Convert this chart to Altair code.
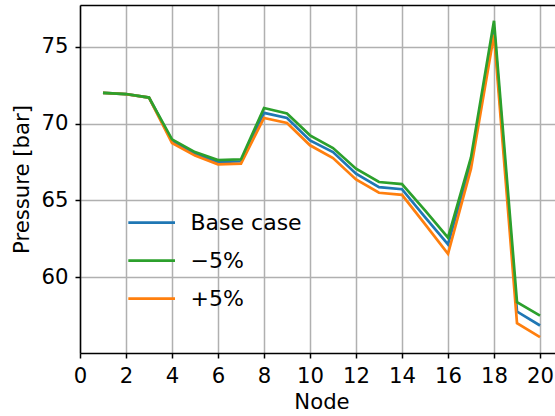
import altair as alt
import pandas as pd

# Pressure profile along the pipeline nodes for the base case and the +/-5 % runs
nodes = list(range(1, 21))
base_case = [72.00, 71.92, 71.70, 68.87, 68.04, 67.50, 67.55, 70.70, 70.37, 68.91,
             68.15, 66.74, 65.87, 65.73, 63.91, 62.13, 67.50, 76.25, 57.76, 56.85]
minus_5 = [72.00, 71.93, 71.70, 68.98, 68.15, 67.63, 67.68, 71.02, 70.66, 69.24,
           68.41, 67.07, 66.20, 66.06, 64.35, 62.57, 67.80, 76.70, 58.37, 57.50]
plus_5 = [72.00, 71.92, 71.70, 68.74, 67.92, 67.35, 67.40, 70.37, 70.04, 68.59,
          67.76, 66.37, 65.50, 65.36, 63.45, 61.52, 67.07, 75.80, 57.00, 56.09]

series_names = ["Base case", "\u22125%", "+5%"]
series_colors = ["#1f77b4", "#2ca02c", "#ff7f0e"]
x_ticks = list(range(0, 21, 2))
y_ticks = [60, 65, 70, 75]

frames = []
for name, vals in zip(series_names, [base_case, minus_5, plus_5]):
    frames.append(pd.DataFrame({"node": nodes, "pressure": vals, "case": name}))
df = pd.concat(frames, ignore_index=True)

FONT = "DejaVu Sans"
FS = 21.2
LW = 2.7

x_scale = alt.Scale(domain=[0, 20.652], nice=False, zero=False)
y_scale = alt.Scale(domain=[55.06, 77.73], nice=False, zero=False)

bottom_axis = alt.Axis(
    values=x_ticks, grid=True, gridColor="#b0b0b0", gridWidth=1.5,
    tickSize=5, tickColor="black", tickWidth=1.5,
    labelFont=FONT, labelFontSize=FS, labelColor="black", labelPadding=7,
    labelFlush=False, labelOverlap=False,
    domainColor="black", domainWidth=1.5,
    title="Node", titleFont=FONT, titleFontSize=FS, titleFontWeight="normal",
    titleColor="black", titleX=241.5, titleY=55.5, titleAlign="center",
    titleBaseline="alphabetic",
)
top_axis = alt.Axis(
    orient="top", labels=False, ticks=False, grid=False, domain=True,
    domainColor="black", domainWidth=1.5, title=None,
)
left_axis = alt.Axis(
    values=y_ticks, grid=True, gridColor="#b0b0b0", gridWidth=1.5,
    tickSize=5, tickColor="black", tickWidth=1.5,
    labelFont=FONT, labelFontSize=FS, labelColor="black", labelPadding=7,
    labelFlush=False, labelOverlap=False,
    domainColor="black", domainWidth=1.5,
    title="Pressure [bar]", titleFont=FONT, titleFontSize=FS,
    titleFontWeight="normal", titleColor="black", titleAngle=270,
    titleX=-57.5, titleY=174, titleAlign="center", titleBaseline="middle",
)

legend = alt.Legend(
    title=None, orient="none", legendX=58.15, legendY=204.2, padding=0,
    symbolType="M-2,0H2", symbolSize=545, symbolStrokeWidth=LW,
    labelFont=FONT, labelFontSize=22, labelColor="black", labelOffset=25.35,
    rowPadding=13,
)
color = alt.Color("case:N", scale=alt.Scale(domain=series_names, range=series_colors),
                  legend=legend)

base = alt.Chart(df).mark_line(strokeWidth=LW)


def series(name, x_axis, y_axis):
    return base.transform_filter(alt.datum.case == name).encode(
        x=alt.X("node:Q", scale=x_scale, axis=x_axis),
        y=alt.Y("pressure:Q", scale=y_scale, axis=y_axis),
        color=color,
    )


chart = alt.layer(
    series("Base case", bottom_axis, left_axis),
    series("+5%", top_axis, None),
    series("\u22125%", None, None),
).resolve_axis(x="independent", y="independent").properties(
    width=475, height=348,
    autosize=alt.AutoSizeParams(type="none"),
    padding={"left": 80, "top": 5, "right": 0, "bottom": 63},
    background="white",
).configure_view(stroke=None)

chart.save("out.html", embed_options={"renderer": "svg", "actions": False})
